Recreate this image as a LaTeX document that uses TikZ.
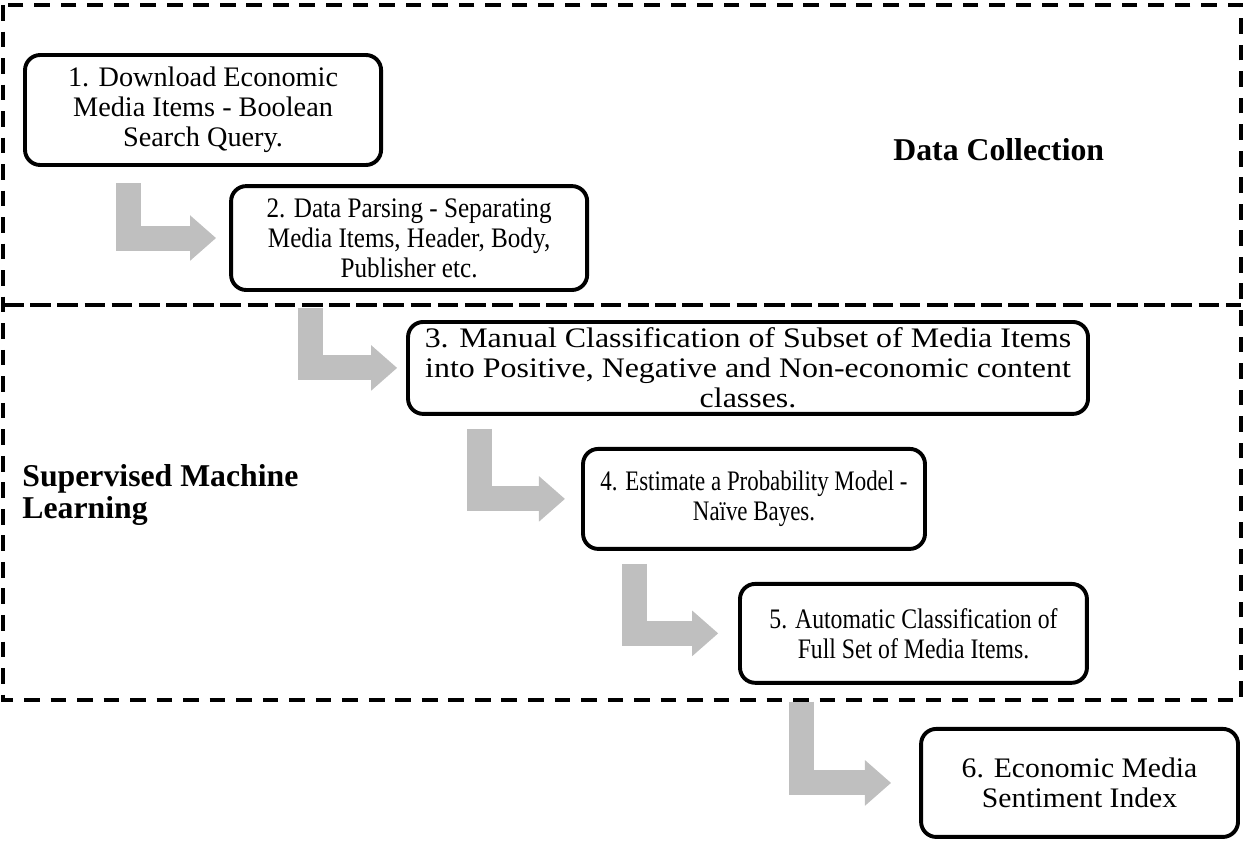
\documentclass[tikz,border=0pt]{standalone}
\usepackage{fontspec}
\setmainfont{Liberation Serif}
\usetikzlibrary{positioning,arrows.meta}
\newcommand{\stagefont}[1]{\fontspec{Liberation Serif}[FakeStretch=#1]\fontsize{13}{13.8}\selectfont}

\begin{document}
\begin{tikzpicture}[x=0.46pt, y=-0.46pt, nodes = {align = center},
    stage/.style = {draw, line width=1.8pt, rounded corners=7pt, inner sep=1pt, outer sep=0pt,
      font=\stagefont{#1}},
    stage/.default = 1,
    flowarrow/.style = {draw=black!25, line width=11.5pt, line join=miter,
      -{Triangle[width=20.2pt, length=12pt]}},
    zone/.style = {draw, line width=2pt, dash pattern=on 7.2pt off 5pt},
    zonelabel/.style = {inner sep=0pt, align=left, font=\fontsize{14.6}{15}\selectfont\bfseries}]
    \useasboundingbox (0,0) rectangle (1244,841);
    \draw[zone] (3,5) rectangle (1241,700);
    \draw[zone, dash pattern=on 9.5pt off 3pt] (3,305) -- (1241,305);
    \node (collect) [zonelabel, anchor=west] at (893,150) {Data Collection};
    \node (learn) [zonelabel, anchor=west] at (22,495) {Supervised Machine\\Learning};
    \node (download) [stage, anchor=north west, minimum width=163.8pt, minimum height=50.6pt] at (25,55)
{1. Download Economic\\Media Items - Boolean\\Search Query.};
    \node (parse) [stage=0.89, below right = 9.7pt and 94.8pt of download.south west, minimum width=163.8pt, minimum height=47.8pt]
{2. Data Parsing - Separating\\Media Items, Header, Body,\\Publisher etc.};
    \node (manual) [stage=1.13, below right = 14.7pt and 81.4pt of parse.south west, minimum width=312.8pt, minimum height=42.3pt]
{3. Manual Classification of Subset of Media Items\\into Positive, Negative and Non-economic content\\classes.};
    \node (model) [stage=0.81, below right = 16.1pt and 80.5pt of manual.south west, minimum width=157.3pt, minimum height=46pt]
{4. Estimate a Probability Model -\\Naïve Bayes.};
    \node (auto) [stage=0.84, below right = 16.1pt and 72.2pt of model.south west, minimum width=159.6pt, minimum height=45.5pt]
{5. Automatic Classification of\\Full Set of Media Items.};
    \node (index) [stage=1.05, below right = 21.2pt and 83.3pt of auto.south west, minimum width=145.8pt, minimum height=49.7pt]
{6. Economic Media\\Sentiment Index};
    \draw[flowarrow] ([xshift=47.8pt, yshift=-8.3pt]download.south west) |- ([xshift=-6.9pt]parse.west);
    \draw[flowarrow] ([xshift=36.3pt, yshift=-8.3pt]parse.south west) |- ([xshift=-5pt]manual.west);
    \draw[flowarrow] ([xshift=33.1pt, yshift=-6.9pt]manual.south west) |- ([xshift=-8.3pt]model.west);
    \draw[flowarrow] ([xshift=23.5pt, yshift=-6.9pt]model.south west) |- ([xshift=-10pt]auto.west);
    \draw[flowarrow] ([xshift=28.5pt, yshift=-8.7pt]auto.south west) |- ([xshift=-13.8pt]index.west);
\end{tikzpicture}
\end{document}
